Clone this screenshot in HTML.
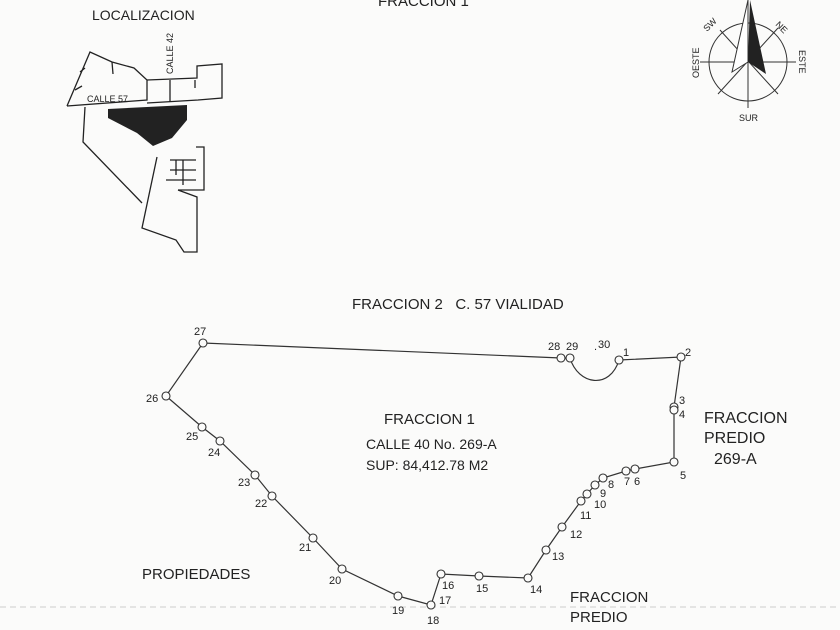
<!DOCTYPE html>
<html><head><meta charset="utf-8"><style>
body{margin:0;background:#fbfbfa;}
svg{display:block}
text{font-family:"Liberation Sans",sans-serif;fill:#222}
</style></head><body>
<svg width="840" height="630" viewBox="0 0 840 630" xmlns="http://www.w3.org/2000/svg">
<rect width="840" height="630" fill="#fbfbfa"/>
<text x="378" y="6" font-size="15">FRACCION 1</text>
<!-- location map -->
<text x="92" y="20" font-size="14">LOCALIZACION</text>
<g fill="none" stroke="#222" stroke-width="1.3">
<polyline points="67,106 90,52 112,62 134,68 147,80 147,100 67,106"/>
<polyline points="147,80 197,78 197,66 222,64 222,98 198,100 147,103"/>
<line x1="170" y1="80" x2="170" y2="102"/><line x1="195" y1="80" x2="195" y2="88"/>
<line x1="112" y1="62" x2="113" y2="74"/><line x1="85" y1="68" x2="80" y2="72"/><line x1="75" y1="90" x2="82" y2="86"/>
<polyline points="85,107 83,142 142,203"/>
<polyline points="157,157 150,190 142,228 176,240 184,252 197,252 197,197 178,190"/>
<polyline points="196,147 204,147 204,190 178,190"/>
<line x1="170" y1="160" x2="196" y2="160"/><line x1="170" y1="170" x2="196" y2="170"/><line x1="166" y1="180" x2="196" y2="180"/>
<line x1="183" y1="160" x2="183" y2="185"/><line x1="176" y1="160" x2="176" y2="175"/>
</g>
<polygon points="108,109 187,105 187,120 172,138 153,146 137,133 108,118" fill="#222"/>
<text x="87" y="102" font-size="9">CALLE 57</text>
<text transform="translate(173,74) rotate(-90)" font-size="9">CALLE 42</text>
<!-- compass -->
<g fill="none" stroke="#333" stroke-width="1">
<circle cx="748" cy="62" r="39"/>
<line x1="700" y1="62" x2="796" y2="62"/>
<line x1="748" y1="0" x2="748" y2="108"/>
<line x1="720" y1="30" x2="778" y2="94"/>
<line x1="718" y1="94" x2="778" y2="28"/>
<polygon points="748,0 732,72 748,62" fill="#fff"/>
</g>
<polygon points="750,0 766,74 748,62" fill="#222"/>
<text x="739" y="121" font-size="9">SUR</text>
<text transform="translate(699,78) rotate(-90)" font-size="9">OESTE</text>
<text transform="translate(799,50) rotate(90)" font-size="9">ESTE</text>
<text transform="translate(707,32) rotate(-45)" font-size="9">SW</text>
<text transform="translate(775,25) rotate(45)" font-size="9">NE</text>
<!-- texts -->
<text x="352" y="309" font-size="15">FRACCION 2&#160;&#160; C. 57 VIALIDAD</text>
<text x="384" y="424" font-size="15">FRACCION 1</text>
<text x="366" y="449" font-size="14">CALLE  40 No. 269-A</text>
<text x="366" y="470" font-size="14">SUP: 84,412.78 M2</text>
<text x="704" y="423" font-size="16">FRACCION</text>
<text x="704" y="443" font-size="16">PREDIO</text>
<text x="714" y="464" font-size="16">269-A</text>
<text x="142" y="579" font-size="15">PROPIEDADES</text>
<text x="570" y="602" font-size="15">FRACCION</text>
<text x="570" y="622" font-size="15">PREDIO</text>
<line x1="0" y1="607" x2="840" y2="607" stroke="#ccc" stroke-width="1" stroke-dasharray="6,4"/>
<!-- polygon -->
<g fill="none" stroke="#333" stroke-width="1.2">
<polyline points="203,343 561,358 570,358"/>
<path d="M570,358 C578,385 610,390 619,360"/>
<polyline points="619,360 681,357 674,407 674,462 635,469 626,471 603,478 595,485 587,494 581,501 562,527 546,550 528,578 479,576 441,574 431,605 398,596 342,569 313,538 272,496 255,475 220,441 202,427 166,396 203,343"/>
</g>
<g fill="#fbfbfa" stroke="#333" stroke-width="1.1">
<circle cx="203" cy="343" r="4"/><circle cx="561" cy="358" r="4"/><circle cx="570" cy="358" r="4"/>
<circle cx="619" cy="360" r="4"/><circle cx="681" cy="357" r="4"/><circle cx="674" cy="407" r="4"/><circle cx="674" cy="410" r="4"/>
<circle cx="674" cy="462" r="4"/><circle cx="635" cy="469" r="4"/><circle cx="626" cy="471" r="4"/><circle cx="603" cy="478" r="4"/>
<circle cx="595" cy="485" r="4"/><circle cx="587" cy="494" r="4"/><circle cx="581" cy="501" r="4"/><circle cx="562" cy="527" r="4"/>
<circle cx="546" cy="550" r="4"/><circle cx="528" cy="578" r="4"/><circle cx="479" cy="576" r="4"/><circle cx="441" cy="574" r="4"/>
<circle cx="431" cy="605" r="4"/><circle cx="398" cy="596" r="4"/><circle cx="342" cy="569" r="4"/><circle cx="313" cy="538" r="4"/>
<circle cx="272" cy="496" r="4"/><circle cx="255" cy="475" r="4"/><circle cx="220" cy="441" r="4"/><circle cx="202" cy="427" r="4"/><circle cx="166" cy="396" r="4"/>
</g>
<g font-size="11">
<text x="194" y="335">27</text><text x="548" y="350">28</text><text x="566" y="350">29</text><text x="598" y="348">30</text><text x="594" y="350">.</text>
<text x="623" y="356">1</text><text x="685" y="356">2</text><text x="679" y="404">3</text><text x="679" y="418">4</text>
<text x="680" y="479">5</text><text x="634" y="485">6</text><text x="624" y="485">7</text><text x="608" y="488">8</text>
<text x="600" y="497">9</text><text x="594" y="508">10</text><text x="580" y="519">11</text><text x="570" y="538">12</text>
<text x="552" y="560">13</text><text x="530" y="593">14</text><text x="476" y="592">15</text><text x="442" y="589">16</text>
<text x="439" y="604">17</text><text x="427" y="624">18</text><text x="392" y="614">19</text><text x="329" y="584">20</text>
<text x="299" y="551">21</text><text x="255" y="507">22</text><text x="238" y="486">23</text><text x="208" y="456">24</text>
<text x="186" y="440">25</text><text x="146" y="402">26</text>
</g>
</svg>
</body></html>
